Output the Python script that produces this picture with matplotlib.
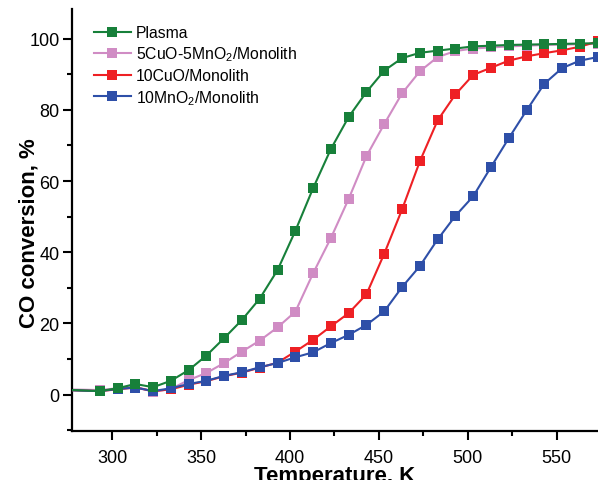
import matplotlib
matplotlib.use('Agg')
import matplotlib.pyplot as plt
from matplotlib.ticker import MultipleLocator

plt.rcParams['font.family'] = ['Liberation Sans', 'DejaVu Sans']
plt.rcParams['mathtext.fontset'] = 'custom'
plt.rcParams['mathtext.rm'] = 'Liberation Sans'
plt.rcParams['mathtext.it'] = 'Liberation Sans:italic'
plt.rcParams['mathtext.bf'] = 'Liberation Sans:bold'

# temperatures, K (first point sits left of the visible range)
temp = [273, 293, 303, 313, 323, 333, 343, 353, 363, 373, 383, 393, 403, 413,
        423, 433, 443, 453, 463, 473, 483, 493, 503, 513, 523, 533, 543, 553,
        563, 573]

plasma = [1.4, 1.0, 1.8, 3.0, 2.1, 3.9, 6.9, 11.0, 15.9, 21.0, 27.0, 35.0,
          46.0, 58.0, 69.0, 78.0, 85.0, 91.0, 94.5, 96.0, 96.6, 97.2, 97.8,
          98.0, 98.2, 98.3, 98.4, 98.5, 98.6, 98.7]
cumn = [1.5, 1.3, 1.8, 2.3, 0.8, 1.6, 4.1, 6.1, 8.9, 12.1, 15.2, 18.9, 23.3,
        34.1, 44.0, 55.0, 67.0, 76.0, 84.6, 90.8, 94.8, 96.5, 97.2, 97.5,
        97.8, 98.0, 98.2, 98.3, 98.4, 98.5]
cuo = [1.3, 1.0, 1.5, 2.0, 1.0, 1.5, 2.8, 3.8, 5.2, 6.2, 7.6, 9.0, 12.1,
       15.4, 19.2, 22.9, 28.2, 39.6, 52.0, 65.5, 77.0, 84.3, 89.8, 91.8,
       93.8, 95.0, 95.9, 96.7, 97.7, 99.2]
mno2 = [1.3, 1.0, 1.6, 2.0, 1.0, 1.8, 3.0, 3.9, 5.3, 6.3, 7.7, 8.9, 10.5,
        11.9, 14.5, 16.8, 19.6, 23.4, 30.2, 36.1, 43.6, 50.2, 55.7, 63.9,
        72.0, 79.8, 87.3, 91.7, 93.8, 94.8]

labels = ['Plasma', '5CuO-5MnO$_2$/Monolith', '10CuO/Monolith',
          '10MnO$_2$/Monolith']
colors = ['#17803a', '#d08cc4', '#ee2024', '#2e4fa8']

fig = plt.figure(figsize=(5.98, 4.81), dpi=100)
ax = fig.add_axes([72/598, 49/481, 526/598, 422/481])

series = [plasma, cumn, cuo, mno2]
zorders = [5, 2, 3, 4]
for y, lab, c, z in zip(series, labels, colors, zorders):
    ax.plot(temp, y, '-s', color=c, label=lab, lw=1.5, ms=6.5,
            markeredgewidth=0, zorder=z)

ax.set_xlim(277.4, 573.2)
ax.set_ylim(-10.2, 108.3)
ax.xaxis.set_major_locator(MultipleLocator(50))
ax.xaxis.set_minor_locator(MultipleLocator(25))
ax.yaxis.set_major_locator(MultipleLocator(20))
ax.yaxis.set_minor_locator(MultipleLocator(10))

ax.spines['top'].set_visible(False)
ax.spines['right'].set_visible(False)
for s in ['left', 'bottom']:
    ax.spines[s].set_linewidth(1.6)
ax.tick_params(which='major', direction='out', length=6.5, width=1.5,
               labelsize=13)
ax.tick_params(which='minor', direction='out', length=3.5, width=1.5)
ax.tick_params(axis='x', which='major', pad=6.8)
ax.tick_params(axis='y', which='major', pad=2.5)

ax.set_xlabel('Temperature, K', fontsize=16, fontweight='bold', labelpad=-1.4)
ax.set_ylabel('CO conversion, %', fontsize=16, fontweight='bold')
ax.yaxis.set_label_coords(-0.062, 0.472)

ax.legend(loc='upper left', bbox_to_anchor=(0.02, 0.988), frameon=False,
          fontsize=11.3, handlelength=2.4, handletextpad=0.3,
          labelspacing=0.3, borderaxespad=0.3)

fig.savefig('out.png', dpi=100)
